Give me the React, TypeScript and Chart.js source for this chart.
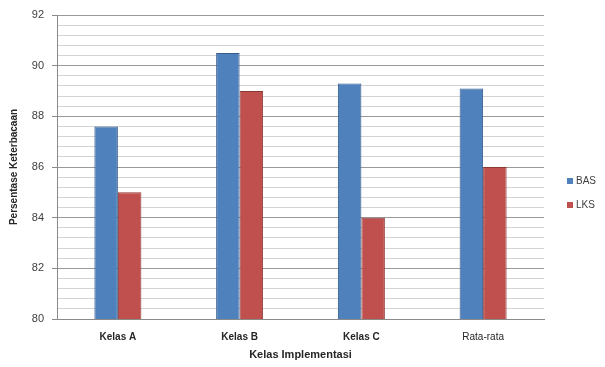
import React, { useEffect, useRef } from "react";
import { Chart, registerables } from "chart.js";

Chart.register(...registerables);

const categories = ["Kelas A", "Kelas B", "Kelas C", "Rata-rata"];
const basValues = [87.6, 90.5, 89.3, 89.1];
const lksValues = [85.0, 89.0, 84.0, 86.0];
const seriesNames = ["BAS", "LKS"];
const yTitle = "Persentase Keterbacaan";
const xTitle = "Kelas Implementasi";

const FONT = "'Liberation Sans', Arial, sans-serif";

const isMajor = (v: number) => Math.abs(v / 2 - Math.round(v / 2)) < 1e-6;

const legendPlugin = {
  id: "sideLegend",
  afterDraw(chart: any) {
    const ctx = chart.ctx;
    ctx.save();
    const x = 567;
    const ys = [181, 205];
    chart.data.datasets.forEach((ds: any, i: number) => {
      const y = ys[i];
      ctx.fillStyle = ds.backgroundColor;
      ctx.fillRect(x, y - 3, 6, 6);
      ctx.fillStyle = "#404040";
      ctx.font = `10px ${FONT}`;
      ctx.textBaseline = "middle";
      ctx.textAlign = "left";
      ctx.fillText(ds.label, x + 9, y + 0.5);
    });
    ctx.restore();
  },
};

export default function App() {
  const ref = useRef<HTMLCanvasElement | null>(null);
  useEffect(() => {
    if (!ref.current) return;
    const chart = new Chart(ref.current, {
      type: "bar",
      data: {
        labels: categories,
        datasets: [
          {
            label: seriesNames[0],
            data: basValues,
            backgroundColor: "#4F81BD",
            borderColor: "#345B8C",
            borderWidth: 1,
          },
          {
            label: seriesNames[1],
            data: lksValues,
            backgroundColor: "#C0504D",
            borderColor: "#8E3835",
            borderWidth: 1,
          },
        ],
      },
      options: {
        animation: false,
        responsive: false,
        maintainAspectRatio: false,
        layout: { padding: { top: 15, right: 61, left: 0, bottom: 1 } },
        plugins: {
          legend: { display: false },
          tooltip: { enabled: false },
        },
        datasets: {
          bar: { categoryPercentage: 0.386, barPercentage: 1 },
        },
        scales: {
          x: {
            grid: { display: false, drawTicks: false },
            border: { display: true, color: "#8a8a8a", width: 1 },
            ticks: {
              padding: 12,
              color: "#262626",
              font: (c: any) => ({
                family: FONT,
                size: 10,
                weight: c.index === 3 ? "normal" : "bold",
              }),
            },
            title: {
              display: true,
              text: xTitle,
              color: "#262626",
              font: { family: FONT, size: 11, weight: "bold" },
              padding: { top: 6, bottom: 4 },
            },
            afterFit: (scale: any) => {
              scale.height = 47;
            },
          },
          y: {
            min: 80,
            max: 92,
            ticks: {
              stepSize: 0.4,
              autoSkip: false,
              padding: 8,
              color: "#404040",
              font: { family: FONT, size: 11 },
              callback: (v: any) => (isMajor(Number(v)) ? String(Math.round(Number(v))) : ""),
            },
            grid: {
              color: (c: any) => (isMajor(c.tick?.value ?? 0) ? "#999999" : "#d3d3d3"),
              tickColor: (c: any) => (isMajor(c.tick?.value ?? 0) ? "#8a8a8a" : "rgba(0,0,0,0)"),
              tickLength: 5,
              lineWidth: 1,
            },
            border: { display: true, color: "#8a8a8a", width: 1 },
            title: {
              display: true,
              text: yTitle,
              color: "#262626",
              font: { family: FONT, size: 10, weight: "bold" },
              padding: { top: 8, bottom: 0 },
            },
            afterFit: (scale: any) => {
              scale.width = 57;
            },
          },
        },
      } as any,
      plugins: [legendPlugin],
    });
    return () => chart.destroy();
  }, []);
  return (
    <div style={{ position: "absolute", left: 0, top: 0, width: 605, height: 367, background: "#fff" }}>
      <canvas ref={ref} width={605} height={367} style={{ width: 605, height: 367 }} />
    </div>
  );
}
